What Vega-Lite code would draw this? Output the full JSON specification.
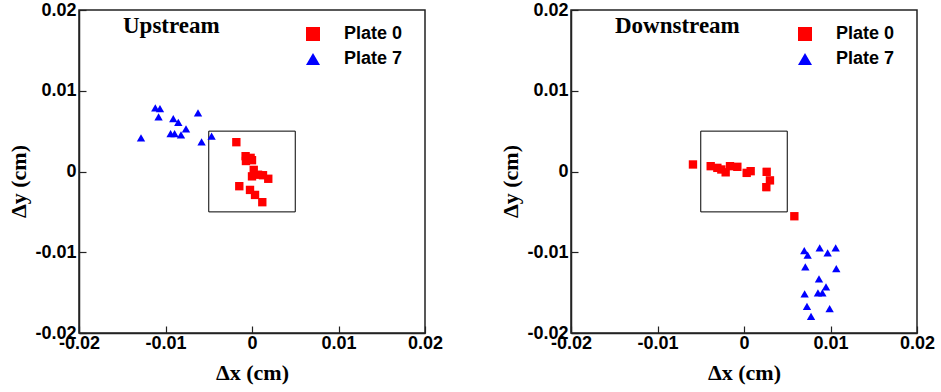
{
  "$schema": "https://vega.github.io/schema/vega-lite/v6.json",
  "background": "white",
  "padding": {"left": 6, "top": 0, "right": 5, "bottom": 5},
  "datasets": {
    "up": [
      {"x": -0.01283, "y": 0.00416, "plate": "Plate 7"},
      {"x": -0.01118, "y": 0.00788, "plate": "Plate 7"},
      {"x": -0.01064, "y": 0.0078, "plate": "Plate 7"},
      {"x": -0.0108, "y": 0.00676, "plate": "Plate 7"},
      {"x": -0.0091, "y": 0.00656, "plate": "Plate 7"},
      {"x": -0.00852, "y": 0.00607, "plate": "Plate 7"},
      {"x": -0.00763, "y": 0.00528, "plate": "Plate 7"},
      {"x": -0.00941, "y": 0.0047, "plate": "Plate 7"},
      {"x": -0.00895, "y": 0.0047, "plate": "Plate 7"},
      {"x": -0.00821, "y": 0.00453, "plate": "Plate 7"},
      {"x": -0.00624, "y": 0.00726, "plate": "Plate 7"},
      {"x": -0.00583, "y": 0.00367, "plate": "Plate 7"},
      {"x": -0.00467, "y": 0.00437, "plate": "Plate 7"},
      {"x": -0.00181, "y": 0.00363, "plate": "Plate 0"},
      {"x": -0.00074, "y": 0.0019, "plate": "Plate 0"},
      {"x": -0.00016, "y": 0.00169, "plate": "Plate 0"},
      {"x": -0.0007, "y": 0.0013, "plate": "Plate 0"},
      {"x": 0.0, "y": 0.0014, "plate": "Plate 0"},
      {"x": 0.0002, "y": 0.0002, "plate": "Plate 0"},
      {"x": 0.0, "y": -0.0006, "plate": "Plate 0"},
      {"x": 0.0007, "y": -0.0004, "plate": "Plate 0"},
      {"x": 0.00127, "y": -0.00046, "plate": "Plate 0"},
      {"x": 0.00188, "y": -0.0009, "plate": "Plate 0"},
      {"x": -0.00147, "y": -0.00182, "plate": "Plate 0"},
      {"x": -0.00023, "y": -0.00228, "plate": "Plate 0"},
      {"x": 0.00035, "y": -0.0029, "plate": "Plate 0"},
      {"x": 0.00119, "y": -0.0038, "plate": "Plate 0"}
    ],
    "down": [
      {"x": -0.0059, "y": 0.00087, "plate": "Plate 0"},
      {"x": -0.00385, "y": 0.00066, "plate": "Plate 0"},
      {"x": -0.00308, "y": 0.00045, "plate": "Plate 0"},
      {"x": -0.00262, "y": 0.00025, "plate": "Plate 0"},
      {"x": -0.00212, "y": -0.0001, "plate": "Plate 0"},
      {"x": -0.00162, "y": 0.00066, "plate": "Plate 0"},
      {"x": -0.00077, "y": 0.00058, "plate": "Plate 0"},
      {"x": 0.00031, "y": -0.00017, "plate": "Plate 0"},
      {"x": 0.00077, "y": 0.00004, "plate": "Plate 0"},
      {"x": 0.00262, "y": -0.00004, "plate": "Plate 0"},
      {"x": 0.003, "y": -0.0011, "plate": "Plate 0"},
      {"x": 0.00258, "y": -0.00194, "plate": "Plate 0"},
      {"x": 0.00582, "y": -0.00554, "plate": "Plate 0"},
      {"x": 0.00697, "y": -0.0098, "plate": "Plate 7"},
      {"x": 0.00736, "y": -0.01037, "plate": "Plate 7"},
      {"x": 0.00875, "y": -0.00946, "plate": "Plate 7"},
      {"x": 0.00967, "y": -0.01008, "plate": "Plate 7"},
      {"x": 0.0106, "y": -0.00946, "plate": "Plate 7"},
      {"x": 0.00709, "y": -0.01182, "plate": "Plate 7"},
      {"x": 0.01067, "y": -0.01202, "plate": "Plate 7"},
      {"x": 0.00867, "y": -0.01331, "plate": "Plate 7"},
      {"x": 0.00948, "y": -0.0143, "plate": "Plate 7"},
      {"x": 0.00855, "y": -0.01504, "plate": "Plate 7"},
      {"x": 0.00906, "y": -0.01504, "plate": "Plate 7"},
      {"x": 0.00701, "y": -0.01517, "plate": "Plate 7"},
      {"x": 0.00728, "y": -0.01669, "plate": "Plate 7"},
      {"x": 0.0099, "y": -0.01698, "plate": "Plate 7"},
      {"x": 0.00775, "y": -0.01793, "plate": "Plate 7"}
    ],
    "box": [
      {"x": -0.005, "x2": 0.005, "y": -0.005, "y2": 0.005}
    ]
  },
  "config": {
    "view": {"stroke": "#222", "strokeWidth": 1.5},
    "concat": {"spacing": 146},
    "axis": {
      "grid": false,
      "domainColor": "#222",
      "domainWidth": 1.5,
      "tickColor": "#222",
      "tickWidth": 1.2,
      "tickSize": -7,
      "labelFont": "Liberation Sans",
      "labelFontWeight": "bold",
      "labelFontSize": 18,
      "labelColor": "black",
      "labelFlush": false,
      "labelOverlap": false,
      "labelBound": false,
      "titleFont": "Liberation Serif",
      "titleFontWeight": "bold",
      "titleFontSize": 22,
      "titleColor": "black"
    },
    "axisX": {"labelPadding": 8, "titleX": 173, "titleY": 46, "titleBaseline": "alphabetic"},
    "axisY": {"labelPadding": 10, "titleX": -54, "titleY": 171, "titleBaseline": "alphabetic", "titleAngle": -90},
    "legend": {
      "orient": "none",
      "legendX": 225,
      "legendY": 15,
      "padding": 0,
      "title": null,
      "symbolSize": 196,
      "symbolStrokeWidth": 0,
      "labelFont": "Liberation Sans",
      "labelFontWeight": "bold",
      "labelFontSize": 18,
      "labelColor": "black",
      "labelOffset": 22,
      "rowPadding": 7
    },
    "title": {
      "font": "Liberation Serif",
      "fontWeight": "bold",
      "fontSize": 23,
      "color": "black",
      "anchor": "start",
      "frame": "group",
      "baseline": "alphabetic",
      "offset": -36.5,
      "dx": 44
    }
  },
  "resolve": {"legend": {"color": "independent", "shape": "independent"}},
  "bounds": "flush",
  "hconcat": [
    {
      "width": 346,
      "height": 323,
      "title": "Upstream",
      "layer": [
        {
          "data": {"name": "box"},
          "mark": {"type": "rect", "fillOpacity": 0, "stroke": "black", "strokeWidth": 1},
          "encoding": {
            "x": {"field": "x", "type": "quantitative", "scale": {"domain": [-0.02, 0.02], "nice": false, "zero": false}, "axis": {"title": "Δx (cm)", "values": [-0.02, -0.01, 0, 0.01, 0.02], "labelExpr": "replace(format(datum.value, '.2~f'), '\u2212', '-')"}},
            "x2": {"field": "x2"},
            "y": {"field": "y", "type": "quantitative", "scale": {"domain": [-0.02, 0.02], "nice": false, "zero": false}, "axis": {"title": "Δy (cm)", "values": [-0.02, -0.01, 0, 0.01, 0.02], "labelExpr": "replace(format(datum.value, '.2~f'), '\u2212', '-')"}},
            "y2": {"field": "y2"}
          }
        },
        {
          "data": {"name": "up"},
          "mark": {"type": "point", "filled": true, "opacity": 1, "size": 70},
          "encoding": {
            "x": {"field": "x", "type": "quantitative", "scale": {"domain": [-0.02, 0.02], "nice": false, "zero": false}, "axis": {"title": "Δx (cm)", "values": [-0.02, -0.01, 0, 0.01, 0.02], "labelExpr": "replace(format(datum.value, '.2~f'), '\u2212', '-')"}},
            "y": {"field": "y", "type": "quantitative", "scale": {"domain": [-0.02, 0.02], "nice": false, "zero": false}, "axis": {"title": "Δy (cm)", "values": [-0.02, -0.01, 0, 0.01, 0.02], "labelExpr": "replace(format(datum.value, '.2~f'), '\u2212', '-')"}},
            "color": {"field": "plate", "type": "nominal", "scale": {"domain": ["Plate 0", "Plate 7"], "range": ["#ff0000", "#0000ff"]}},
            "shape": {"field": "plate", "type": "nominal", "scale": {"domain": ["Plate 0", "Plate 7"], "range": ["square", "triangle-up"]}}
          }
        }
      ]
    },
    {
      "width": 346,
      "height": 323,
      "title": "Downstream",
      "layer": [
        {
          "data": {"name": "box"},
          "mark": {"type": "rect", "fillOpacity": 0, "stroke": "black", "strokeWidth": 1},
          "encoding": {
            "x": {"field": "x", "type": "quantitative", "scale": {"domain": [-0.02, 0.02], "nice": false, "zero": false}, "axis": {"title": "Δx (cm)", "values": [-0.02, -0.01, 0, 0.01, 0.02], "labelExpr": "replace(format(datum.value, '.2~f'), '\u2212', '-')"}},
            "x2": {"field": "x2"},
            "y": {"field": "y", "type": "quantitative", "scale": {"domain": [-0.02, 0.02], "nice": false, "zero": false}, "axis": {"title": "Δy (cm)", "values": [-0.02, -0.01, 0, 0.01, 0.02], "labelExpr": "replace(format(datum.value, '.2~f'), '\u2212', '-')"}},
            "y2": {"field": "y2"}
          }
        },
        {
          "data": {"name": "down"},
          "mark": {"type": "point", "filled": true, "opacity": 1, "size": 70},
          "encoding": {
            "x": {"field": "x", "type": "quantitative", "scale": {"domain": [-0.02, 0.02], "nice": false, "zero": false}, "axis": {"title": "Δx (cm)", "values": [-0.02, -0.01, 0, 0.01, 0.02], "labelExpr": "replace(format(datum.value, '.2~f'), '\u2212', '-')"}},
            "y": {"field": "y", "type": "quantitative", "scale": {"domain": [-0.02, 0.02], "nice": false, "zero": false}, "axis": {"title": "Δy (cm)", "values": [-0.02, -0.01, 0, 0.01, 0.02], "labelExpr": "replace(format(datum.value, '.2~f'), '\u2212', '-')"}},
            "color": {"field": "plate", "type": "nominal", "scale": {"domain": ["Plate 0", "Plate 7"], "range": ["#ff0000", "#0000ff"]}},
            "shape": {"field": "plate", "type": "nominal", "scale": {"domain": ["Plate 0", "Plate 7"], "range": ["square", "triangle-up"]}}
          }
        }
      ]
    }
  ]
}
